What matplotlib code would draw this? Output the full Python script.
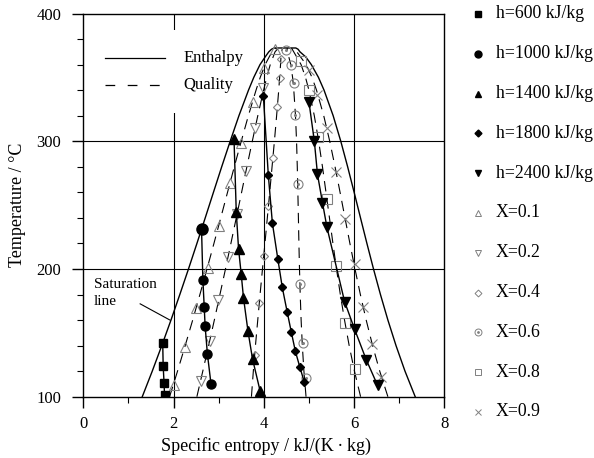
import matplotlib
matplotlib.use("Agg")
import matplotlib.pyplot as plt
from matplotlib.lines import Line2D
from matplotlib.patches import Rectangle

plt.rcParams['font.family'] = ['Liberation Serif', 'DejaVu Serif']
plt.rcParams['lines.scale_dashes'] = False

# ---------------- saturation dome of water ----------------
sat_T = [100, 120, 140, 160, 180, 200, 220, 240, 260, 280, 300, 320, 340, 350, 360, 366, 370, 372, 373]
sat_s_liq = [1.307, 1.528, 1.739, 1.943, 2.139, 2.331, 2.518, 2.702, 2.884, 3.067, 3.255,
             3.449, 3.661, 3.778, 3.916, 4.030, 4.111, 4.170, 4.230]
sat_s_vap = [7.355, 7.129, 6.930, 6.750, 6.585, 6.431, 6.285, 6.143, 6.002, 5.858, 5.706,
             5.537, 5.335, 5.211, 5.053, 4.930, 4.801, 4.760, 4.710]

# ---------------- constant-quality lines ----------------
qual_T = [100, 120, 140, 160, 180, 200, 220, 240, 260, 280, 300, 320, 340, 350, 360, 370, 373]
q01_s = [1.912, 2.088, 2.258, 2.424, 2.584, 2.741, 2.895, 3.046, 3.196, 3.346, 3.500, 3.658, 3.828, 3.921, 4.030, 4.180, 4.278]
q02_s = [2.517, 2.648, 2.777, 2.904, 3.028, 3.151, 3.271, 3.390, 3.508, 3.625, 3.745, 3.867, 3.996, 4.065, 4.143, 4.249, 4.326]
q04_s = [3.726, 3.768, 3.815, 3.866, 3.917, 3.971, 4.025, 4.078, 4.131, 4.183, 4.235, 4.284, 4.331, 4.351, 4.371, 4.387, 4.422]
q06_s = [4.936, 4.889, 4.854, 4.827, 4.807, 4.791, 4.778, 4.767, 4.755, 4.742, 4.726, 4.702, 4.665, 4.638, 4.598, 4.525, 4.518]
q08_s = [6.145, 6.009, 5.892, 5.789, 5.696, 5.611, 5.532, 5.455, 5.378, 5.300, 5.216, 5.119, 5.000, 4.924, 4.826, 4.663, 4.614]
q09_s = [6.750, 6.569, 6.411, 6.269, 6.140, 6.021, 5.908, 5.799, 5.690, 5.579, 5.461, 5.328, 5.168, 5.068, 4.939, 4.732, 4.662]

# quality points
q01_pts_s = [2.01, 2.25, 2.50, 2.76, 3.01, 3.24, 3.50, 3.75, 4.00, 4.25]
q01_pts_T = [109.5, 139, 169.5, 201, 234, 267, 299, 331, 357, 372]
q02_pts_s = [2.60, 2.81, 2.99, 3.20, 3.41, 3.61, 3.81, 3.99]
q02_pts_T = [112.5, 143.4, 176, 209, 243, 276.5, 310, 341.3]
q04_pts_s = [3.81, 3.90, 4.00, 4.09, 4.20, 4.30, 4.35, 4.38]
q04_pts_T = [133, 173, 210.5, 249, 287, 327, 349.5, 364]
q06_pts_s = [4.93, 4.86, 4.80, 4.76, 4.70, 4.66, 4.60, 4.50]
q06_pts_T = [115, 142, 188.5, 266.5, 320.5, 345.5, 359.5, 371.5]
q08_pts_s = [6.01, 5.81, 5.61, 5.39, 5.20, 5.01, 4.82]
q08_pts_T = [122, 158, 202.7, 254.5, 303, 340, 362.5]
q09_pts_s = [6.60, 6.39, 6.19, 6.01, 5.81, 5.60, 5.40, 5.19, 5.00]
q09_pts_T = [115.5, 141, 170, 204, 239.5, 276, 310, 336, 355.5]

# ---------------- constant-enthalpy lines ----------------
h600_s = [1.76, 1.77, 1.79, 1.80]
h600_T = [142, 124, 110.5, 101.3]
h1000_s = [2.62, 2.65, 2.68, 2.70, 2.75, 2.83]
h1000_T = [231.5, 191.5, 170, 155, 133.5, 110]
h1400_s = [3.34, 3.39, 3.44, 3.50, 3.55, 3.65, 3.75, 3.92]
h1400_T = [301.5, 244.5, 216, 195.7, 177.4, 151.2, 129.6, 104.2]
h1800_s = [3.99, 4.10, 4.19, 4.31, 4.41, 4.52, 4.61, 4.70, 4.80, 4.90]
h1800_T = [335.5, 273.5, 236, 208, 185.5, 166, 150.5, 135.5, 123, 111.2]
h2400_s = [5.00, 5.12, 5.19, 5.30, 5.40, 5.79, 6.01, 6.27, 6.52]
h2400_T = [331, 300, 274, 252, 232.5, 174.5, 153, 129, 109]

legend_labels = ['h=600 kJ/kg', 'h=1000 kJ/kg', 'h=1400 kJ/kg', 'h=1800 kJ/kg', 'h=2400 kJ/kg',
                 'X=0.1', 'X=0.2', 'X=0.4', 'X=0.6', 'X=0.8', 'X=0.9']

GRAY = '#808080'
W, H = 594, 458
fig = plt.figure(figsize=(W / 100, H / 100), dpi=100)
ax = fig.add_axes([83.3 / W, 1 - 396.7 / H, 361.0 / W, 383.2 / H])
ax.set_xlim(0, 8)
ax.set_ylim(100, 400)

# grid
for gx in (2, 4, 6):
    ax.axvline(gx, color='black', lw=0.8, zorder=1)
for gy in (200, 300):
    ax.axhline(gy, color='black', lw=0.8, zorder=1)

# saturation dome
ax.plot(sat_s_liq + sat_s_vap[::-1], sat_T + sat_T[::-1], color='black', lw=1.0, zorder=3)

# quality lines
for s_line in (q01_s, q02_s, q04_s, q06_s, q08_s, q09_s):
    ax.plot(s_line, qual_T, color='black', lw=0.8, dashes=(7.5, 5), zorder=3)

open_kw = dict(linestyle='none', markerfacecolor='none', markeredgecolor=GRAY,
               markeredgewidth=0.8, zorder=4)
ax.plot(q01_pts_s, q01_pts_T, marker='^', markersize=7, **open_kw)
ax.plot(q02_pts_s, q02_pts_T, marker='v', markersize=7, **open_kw)
ax.plot(q04_pts_s, q04_pts_T, marker='D', markersize=4.5, **open_kw)
ax.plot(q06_pts_s, q06_pts_T, marker='o', markersize=6.5, **open_kw)
ax.plot(q06_pts_s, q06_pts_T, marker='o', markersize=1.2, linestyle='none',
        color=GRAY, zorder=4)
ax.plot(q08_pts_s, q08_pts_T, marker='s', markersize=6.5, **open_kw)
ax.plot(q09_pts_s, q09_pts_T, marker='x', markersize=6.5, **open_kw)

# enthalpy lines
fill_kw = dict(color='black', lw=1.0, zorder=5)
ax.plot(h600_s, h600_T, marker='s', markersize=6, **fill_kw)
ax.plot(h1000_s, h1000_T, marker='o', markersize=6.5, **fill_kw)
ax.plot(h1000_s[:1], h1000_T[:1], marker='o', markersize=8, color='black', zorder=5)
ax.plot(h1400_s, h1400_T, marker='^', markersize=6.5, **fill_kw)
ax.plot(h1800_s, h1800_T, marker='D', markersize=4, **fill_kw)
ax.plot(h2400_s, h2400_T, marker='v', markersize=6.5, **fill_kw)

# axes styling
for sp in ax.spines.values():
    sp.set_linewidth(1.0)
ax.set_xticks([0, 2, 4, 6, 8])
ax.set_xticks([1, 3, 5, 7], minor=True)
ax.set_yticks([100, 200, 300, 400])
ax.set_yticks(range(120, 400, 20), minor=True)
ax.tick_params(which='major', direction='out', length=8, width=1.0, labelsize=12)
ax.tick_params(axis='x', which='major', pad=6)
ax.tick_params(axis='y', which='major', pad=8)
ax.tick_params(which='minor', direction='out', length=4, width=0.8)

# axis titles
fig.text(266 / W, 1 - 446 / H, 'Specific entropy / kJ/(K\u2009\u00b7\u2009kg)', fontsize=13,
         ha='center', va='center')
fig.text(18 / W, 1 - 205 / H, 'Temperature / °C', fontsize=13, rotation=90,
         ha='center', va='center')

# in-plot legend for line styles
ax.add_patch(Rectangle((0.25, 322), 3.05, 65, facecolor='white', edgecolor='none', zorder=2))
ax.plot([0.48, 1.81], [365, 365], color='black', lw=0.9, zorder=3)
ax.plot([0.48, 1.81], [344.3, 344.3], color='black', lw=0.9, dashes=(7, 9), zorder=3)
ax.text(2.21, 365, 'Enthalpy', fontsize=12, va='center', ha='left', zorder=3)
ax.text(2.21, 344.3, 'Quality', fontsize=12, va='center', ha='left', zorder=3)

# saturation line note
ax.text(0.24, 181, 'Saturation\nline', fontsize=11, va='center', ha='left',
        linespacing=1.45, zorder=3)
ax.plot([1.26, 1.92], [172.7, 160], color='black', lw=0.8, zorder=3)

# marker legend on the right
leg_markers = [('s', True, 4.5), ('o', True, 5), ('^', True, 5), ('D', True, 3.5), ('v', True, 5),
               ('^', False, 5), ('v', False, 5), ('D', False, 3.5), ('o', False, 5),
               ('s', False, 5), ('x', False, 5)]
for i, (label, (mk, filled, ms)) in enumerate(zip(legend_labels, leg_markers)):
    py = 14 + i * 39.8
    fy = 1 - py / H
    if filled:
        m = Line2D([478 / W], [fy], transform=fig.transFigure, marker=mk, markersize=ms,
                   color='black', linestyle='none')
    else:
        m = Line2D([478 / W], [fy], transform=fig.transFigure, marker=mk, markersize=ms,
                   markerfacecolor='none', markeredgecolor=GRAY, markeredgewidth=0.7,
                   linestyle='none')
    fig.add_artist(m)
    if mk == 'o' and not filled:
        fig.add_artist(Line2D([478 / W], [fy], transform=fig.transFigure, marker='o',
                              markersize=1, color=GRAY, linestyle='none'))
    fig.text(496 / W, fy, label, fontsize=12.8, va='center', ha='left')

fig.savefig('out.png', dpi=100)
